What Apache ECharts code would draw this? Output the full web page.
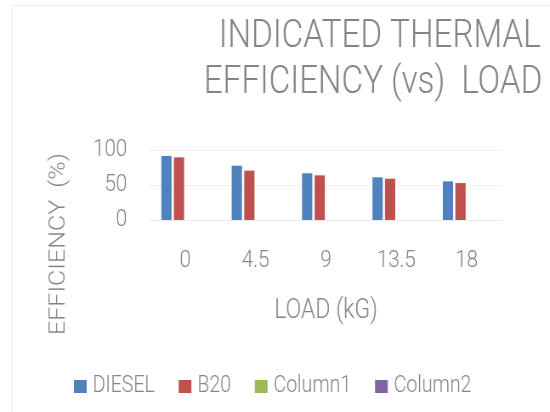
<!DOCTYPE html>
<html><head><meta charset="utf-8">
<script src="https://cdn.jsdelivr.net/npm/echarts@6/dist/echarts.min.js"></script>
<style>html,body{margin:0;padding:0;background:#fff;overflow:hidden}
#c{width:647px;height:412px;transform:scale(0.85,1);transform-origin:0 0}</style>
</head><body><div id="c"></div>
<script>
const categories = ['0', '4.5', '9', '13.5', '18'];
const diesel = [91.4, 77.6, 66.7, 61.0, 55.2];
const b20 = [89.5, 70.5, 63.8, 59.0, 52.8];
const column1 = [null, null, null, null, null];
const column2 = [null, null, null, null, null];
const yTicks = [0, 50, 100];
const titleLines = ['INDICATED THERMAL', 'EFFICIENCY (vs)  LOAD'];

const FONT = 'Roboto, "Liberation Sans", sans-serif';
const W = 300;
const GRAY = '#868686';
const chart = echarts.init(document.getElementById('c'));
chart.setOption({
  animation: false,
  graphic: [
    { type: 'rect', shape: { x: 13.5, y: 5.5, width: 700, height: 420 }, style: { fill: 'none', stroke: '#efefef', lineWidth: 1 }, silent: true },
    { type: 'text', x: 636, y: 37,
      style: { text: titleLines[0], fontFamily: FONT, fontWeight: W, fontSize: 39, fill: '#848484', align: 'right', verticalAlign: 'middle' } },
    { type: 'text', x: 638, y: 83,
      style: { text: titleLines[1], fontFamily: FONT, fontWeight: W, fontSize: 39, fill: '#848484', align: 'right', verticalAlign: 'middle' } },
    { type: 'text', x: 70, y: 244, rotation: Math.PI / 2,
      style: { text: 'EFFICIENCY  (%)', fontFamily: FONT, fontWeight: W, fontSize: 25, fill: GRAY, align: 'center', verticalAlign: 'middle' } }
  ],
  legend: {
    left: 82, top: 370,
    itemWidth: 15, itemHeight: 13, itemGap: 28,
    icon: 'rect',
    textStyle: { fontFamily: FONT, fontWeight: W, fontSize: 23, color: GRAY, padding: [0, 0, 0, 2] },
    data: ['DIESEL', 'B20', 'Column1', 'Column2']
  },
  grid: { left: 176.5, right: 56.5, top: 150, bottom: 192 },
  xAxis: {
    type: 'category', data: categories,
    name: 'LOAD (kG)', nameLocation: 'middle', nameGap: 78,
    nameTextStyle: { fontFamily: FONT, fontWeight: W, fontSize: 27, color: GRAY },
    axisLine: { lineStyle: { color: '#ececec' } },
    axisTick: { show: false },
    axisLabel: { fontFamily: FONT, fontWeight: W, fontSize: 24, color: GRAY, margin: 29 }
  },
  yAxis: {
    type: 'value', min: 0, max: 100, interval: 50,
    axisLine: { show: false }, axisTick: { show: false },
    splitLine: { lineStyle: { color: '#efefef' } },
    axisLabel: { fontFamily: FONT, fontWeight: W, fontSize: 24, color: GRAY, margin: 27,
      formatter: v => yTicks.includes(v) ? String(v) : '' }
  },
  series: [
    { name: 'DIESEL', type: 'bar', data: diesel, itemStyle: { color: '#4f81bd' }, barGap: '22%', barCategoryGap: '32%' },
    { name: 'B20', type: 'bar', data: b20, itemStyle: { color: '#c0504d' } },
    { name: 'Column1', type: 'bar', data: column1, itemStyle: { color: '#9bbb59' } },
    { name: 'Column2', type: 'bar', data: column2, itemStyle: { color: '#8064a2' } }
  ]
});
</script></body></html>
